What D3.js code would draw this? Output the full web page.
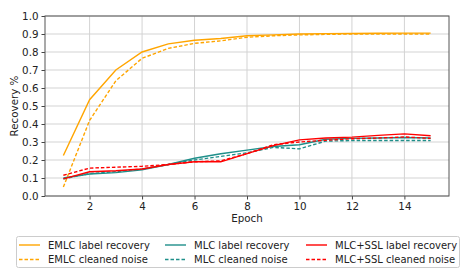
<!DOCTYPE html>
<meta charset="utf-8">
<script src="https://d3js.org/d3.v7.min.js"></script>
<style>
  body { margin: 0; background: #fff; }
  text { font-family: "DejaVu Sans", sans-serif; fill: #222; }
</style>
<body>
<div id="vis"></div>
<script>
// data
var epochs = [1,2,3,4,5,6,7,8,9,10,11,12,13,14,15];
var emlcLabel   = [0.225,0.535,0.70,0.80,0.845,0.865,0.875,0.89,0.895,0.90,0.902,0.903,0.904,0.905,0.905];
var emlcNoise   = [0.05,0.42,0.64,0.765,0.82,0.848,0.862,0.882,0.89,0.895,0.898,0.90,0.90,0.90,0.90];
var mlcLabel    = [0.10,0.122,0.13,0.145,0.175,0.21,0.235,0.255,0.275,0.285,0.315,0.32,0.322,0.325,0.322];
var mlcNoise    = [0.095,0.125,0.135,0.15,0.175,0.20,0.22,0.24,0.27,0.262,0.305,0.308,0.308,0.308,0.308];
var sslLabel    = [0.095,0.135,0.14,0.15,0.175,0.19,0.19,0.235,0.28,0.312,0.322,0.327,0.337,0.345,0.335];
var sslNoise    = [0.115,0.155,0.16,0.165,0.175,0.19,0.195,0.235,0.285,0.30,0.31,0.318,0.322,0.328,0.32];
var xTicks = [2,4,6,8,10,12,14];
var yTicks = [0,0.1,0.2,0.3,0.4,0.5,0.6,0.7,0.8,0.9,1.0];

var series = [
  {name: "EMLC label recovery", values: emlcLabel, color: "orange", dash: null},
  {name: "EMLC cleaned noise", values: emlcNoise, color: "orange", dash: "3.5,2"},
  {name: "MLC label recovery", values: mlcLabel, color: "#1f8f8a", dash: null},
  {name: "MLC cleaned noise", values: mlcNoise, color: "#1f8f8a", dash: "3.5,2"},
  {name: "MLC+SSL label recovery", values: sslLabel, color: "red", dash: null},
  {name: "MLC+SSL cleaned noise", values: sslNoise, color: "red", dash: "3.5,2"}
];

var W = 476, H = 270;
var margin = {top: 16, right: 27, bottom: 74, left: 45},
    width = W - margin.left - margin.right,
    height = H - margin.top - margin.bottom;

var root = d3.select("#vis").append("svg")
    .attr("width", W).attr("height", H);
var svg = root.append("g")
    .attr("transform", "translate(" + margin.left + "," + margin.top + ")");

var x = d3.scaleLinear().domain([0.3, 15.7]).range([0, width]);
var y = d3.scaleLinear().domain([0, 1]).range([height, 0]);

// grid
svg.append("g").selectAll("line").data(xTicks).enter().append("line")
  .attr("x1", function(d){ return x(d); }).attr("x2", function(d){ return x(d); })
  .attr("y1", 0).attr("y2", height)
  .attr("stroke", "#d3d3d3").attr("stroke-width", 1);
svg.append("g").selectAll("line").data(yTicks).enter().append("line")
  .attr("x1", 0).attr("x2", width)
  .attr("y1", function(d){ return y(d); }).attr("y2", function(d){ return y(d); })
  .attr("stroke", "#d3d3d3").attr("stroke-width", 1);

// lines
var line = d3.line()
  .x(function(d, i){ return x(epochs[i]); })
  .y(function(d){ return y(d); });

svg.append("g").selectAll("path").data(series).enter().append("path")
  .attr("d", function(d){ return line(d.values); })
  .attr("fill", "none")
  .attr("stroke", function(d){ return d.color; })
  .attr("stroke-width", 1.4)
  .attr("stroke-dasharray", function(d){ return d.dash; });

// axes
var xAxis = svg.append("g")
  .attr("transform", "translate(0," + height + ")")
  .call(d3.axisBottom(x).tickValues(xTicks).tickSize(3.5).tickPadding(3));
var yAxis = svg.append("g")
  .call(d3.axisLeft(y).tickValues(yTicks).tickSize(3.5).tickPadding(3).tickFormat(d3.format(".1f")));
[xAxis, yAxis].forEach(function(a){
  a.select(".domain").remove();
  a.selectAll("text").style("font-family", "DejaVu Sans").style("font-size", "10.3px").attr("fill", "#222");
  a.selectAll("line").attr("stroke", "#444");
});
svg.append("rect")
  .attr("width", width).attr("height", height)
  .attr("fill", "none").attr("stroke", "#555").attr("stroke-width", 1);

// axis labels
svg.append("text")
  .attr("x", width / 2).attr("y", height + 26)
  .attr("text-anchor", "middle")
  .style("font-size", "10.3px")
  .text("Epoch");
svg.append("text")
  .attr("transform", "translate(" + (-27) + "," + (height / 2) + ") rotate(-90)")
  .attr("text-anchor", "middle")
  .style("font-size", "10.3px")
  .text("Recovery %");

// legend
var legend = root.append("g");
legend.append("rect")
  .attr("x", 16.5).attr("y", 236.5).attr("width", 443).attr("height", 31).attr("rx", 2)
  .attr("fill", "#fff").attr("stroke", "#ccc");
var colX = [19, 165, 306];
var item = legend.selectAll("g.item").data(series).enter().append("g")
  .attr("transform", function(d, i){
    return "translate(" + colX[Math.floor(i / 2)] + "," + (245 + (i % 2) * 14.5) + ")";
  });
item.append("line")
  .attr("x1", 0).attr("x2", 21).attr("y1", 0).attr("y2", 0)
  .attr("stroke", function(d){ return d.color; })
  .attr("stroke-width", 1.4)
  .attr("stroke-dasharray", function(d){ return d.dash; });
item.append("text")
  .attr("x", 29).attr("y", 0).attr("dy", "0.35em")
  .style("font-size", "10px")
  .text(function(d){ return d.name; });
</script>
</body>
